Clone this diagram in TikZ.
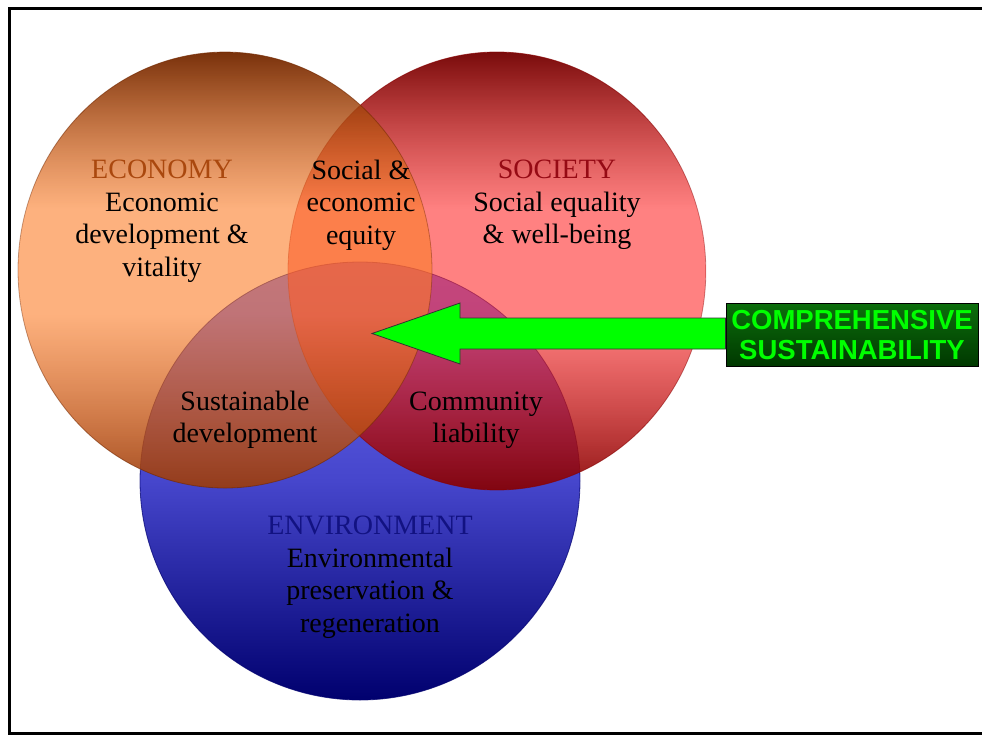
\documentclass[tikz,border=0pt]{standalone}
\usepackage{fontspec}
\setmainfont{Liberation Serif}
\newfontfamily\boxfont{Liberation Sans}
\usetikzlibrary{fadings}

\definecolor{econtop}{RGB}{115,40,0}
\definecolor{econmid}{RGB}{252,125,40}
\definecolor{econbot}{RGB}{155,60,12}
\definecolor{soctop}{RGB}{115,0,0}
\definecolor{socmid}{RGB}{255,45,45}
\definecolor{socbot}{RGB}{135,0,0}
\definecolor{envtop}{RGB}{112,112,248}
\definecolor{envmid}{RGB}{70,70,204}
\definecolor{envbot}{RGB}{0,0,110}
\definecolor{econhead}{RGB}{170,72,14}
\definecolor{sochead}{RGB}{150,10,20}
\definecolor{envhead}{RGB}{18,18,130}
\definecolor{arrowgreen}{RGB}{0,255,0}
\definecolor{boxtop}{RGB}{12,110,12}
\definecolor{boxbot}{RGB}{0,56,0}

% light band in the middle of the two upper circles
\pgfdeclareverticalshading{econshade}{100bp}{color(0bp)=(econbot); color(25bp)=(econbot);
  color(45bp)=(econmid); color(57bp)=(econmid); color(75bp)=(econtop); color(100bp)=(econtop)}
\pgfdeclareverticalshading{socshade}{100bp}{color(0bp)=(socbot); color(25bp)=(socbot);
  color(45bp)=(socmid); color(57bp)=(socmid); color(75bp)=(soctop); color(100bp)=(soctop)}
\pgfdeclareverticalshading{vennalpha}{100bp}{color(0bp)=(black!8); color(25bp)=(black!8);
  color(45bp)=(black!40); color(57bp)=(black!40); color(75bp)=(black!4); color(100bp)=(black!4)}

\begin{tikzfadingfrompicture}[name=vennfade]
  \shade[shading=vennalpha] (-25bp, -25bp) rectangle (25bp, 25bp);
\end{tikzfadingfrompicture}

\begin{document}
\begin{tikzpicture}[x=1pt, y=-1pt,
    venntext/.style={align=center, font=\fontsize{28}{32.5}\selectfont, text=black},
    vennedge/.style={line width=0.8pt, draw opacity=0.7},
    sustbox/.style={draw=black, line width=0.8pt, top color=boxtop, bottom color=boxbot,
        minimum width=252pt, minimum height=63pt, inner sep=0pt, align=center,
        text=arrowgreen, font=\boxfont\bfseries\fontsize{27.5}{30}\selectfont}]
    \clip (0, 0) rectangle (982, 736);
    \draw[line width=3pt] (9, 8) rectangle (1000, 733);

    % the three circles
    \shadedraw[vennedge, draw=envbot, top color=envtop, bottom color=envbot, middle color=envmid]
        (360, 481) ellipse [x radius=220pt, y radius=219pt];
    \shadedraw[vennedge, draw=socbot, shading=socshade, path fading=vennfade]
        (497, 271) ellipse [x radius=209pt, y radius=219pt];
    \shadedraw[vennedge, draw=econtop, shading=econshade, path fading=vennfade]
        (225, 270) ellipse [x radius=207pt, y radius=218pt];

    % labels
    \node[venntext] at (162, 221) (econ) {{\color{econhead}ECONOMY}\\Economic\\development \&\\vitality};
    \node[venntext] at (557, 205) (soc) {{\color{sochead}SOCIETY}\\Social equality\\\& well-being};
    \node[venntext] at (361, 205) (equity) {Social \&\\economic\\equity};
    \node[venntext] at (245, 420) (sustdev) {Sustainable\\development};
    \node[venntext] at (476, 420) (commun) {Community\\liability};
    \node[venntext] at (370, 577) (env) {{\color{envhead}ENVIRONMENT}\\Environmental\\preservation \&\\regeneration};

    % arrow into the centre
    \node[sustbox] at (852, 335) (comp) {COMPREHENSIVE\\SUSTAINABILITY};
    \coordinate (tip) at (372, 333.5);
    \draw[fill=arrowgreen, draw=black!80, line width=0.8pt]
        (tip) -- (460, 303) -- (460, 318) -- (comp.west |- 0, 318)
        -- (comp.west |- 0, 349) -- (460, 349) -- (460, 364) -- cycle;
\end{tikzpicture}
\end{document}
